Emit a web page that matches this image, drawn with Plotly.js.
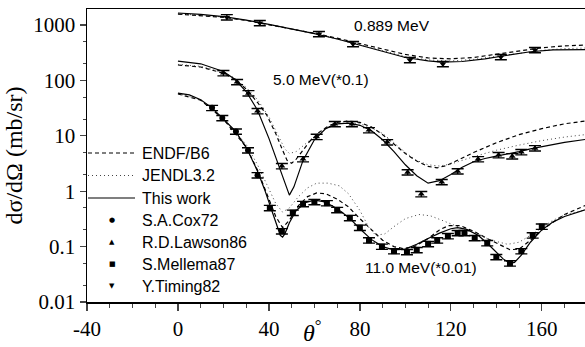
<!DOCTYPE html>
<html>
<head>
<meta charset="utf-8">
<script src="https://cdn.plot.ly/plotly-3.0.1.min.js"></script>
<style>html,body{margin:0;padding:0;background:#fff;}#chart{width:585px;height:347px;}</style>
</head>
<body>
<div id="chart"></div>
<script>
// ---- 0.889 MeV ----
const th889Solid = [0,10,20,30,40,50,60,70,80,90,100,110,116,125,135,145,155,165,179];
const v889Solid  = [1650,1560,1420,1230,1030,860,700,560,430,330,260,225,215,220,245,285,330,355,360];
const th889Endf  = [0,10,20,30,40,50,60,70,80,90,100,110,120,130,140,150,160,170,179];
const v889Endf   = [1580,1500,1380,1210,1020,860,710,580,460,365,295,255,245,260,295,345,390,420,435];
const th889Jendl = [0,10,20,30,40,50,60,70,80,90,100,110,120,130,140,150,160,170,179];
const v889Jendl  = [1600,1520,1400,1220,1025,855,700,565,440,340,270,235,225,240,270,310,350,375,385];
const th889Exp   = [21.5,36,62,77,102,116.5,142,157];
const v889Exp    = [1390,1090,690,455,235,198,265,355];

// ---- 5.0 MeV (*0.1) ----
const th5Solid = [0,10,20,25,30,35,40,44,47,49,51,55,60,65,70,75,80,85,90,95,100,105,110,115,120,125,130,135,140,145,150,155,160,165,170,179];
const v5Solid  = [224,200,145,105,63,29,9,3.2,1.4,0.85,1.2,3.6,8.5,13.5,16.5,17,15.5,12.5,8.5,5.2,3,1.9,1.4,1.55,2,2.7,3.4,3.9,4.3,4.7,5.2,5.8,6.4,7,7.6,8.6];
const th5Endf  = [0,10,20,25,30,35,39,43,46,48,50,52,55,58,62,66,70,75,80,85,90,95,100,105,110,114,118,124,130,140,150,160,170,179];
const v5Endf   = [190,175,135,105,70,40,24,11,5.5,3.6,3.2,3.8,5.5,8,11.5,15,17.5,18.5,17.5,14.5,10.5,7,4.8,3.5,2.8,2.65,2.9,3.8,5,7.5,10.5,13.5,16.5,18.5];
const th5Jendl = [0,10,20,25,30,35,40,44,47,49,52,57,62,66,70,75,80,85,90,95,100,105,110,115,120,130,140,150,160,170,179];
const v5Jendl  = [195,180,140,110,75,45,22,10,5.8,4.8,5.2,7.7,11.5,14.5,16.5,17.2,16.5,14,11,7.5,5,3.6,3,2.85,3.1,4.2,5.5,6.8,8.2,9.5,10.5];
const th5Exp   = [20,26,31,35,45.7,55,61,69,76.5,84,92,101,107,116,123,132,141,147,151,157];
const v5Exp    = [136,94,59,28,2.85,3.8,9.6,16.4,16.4,12.7,7.7,2.2,0.89,1.47,2.3,3.8,4.5,4.3,5.1,6.0];

// ---- 11.0 MeV (*0.01) ----
const th11Solid = [0,5,10,15,20,25,30,35,38,41,43,45,46,47,49,52,56,60,64,68,72,76,80,85,90,95,100,105,110,115,120,123,127,132,136,140,143,146,148,151,155,160,165,170,179];
const v11Solid  = [59,55,45,32,20,12.5,6.2,2.3,1.1,0.5,0.27,0.16,0.148,0.17,0.27,0.45,0.62,0.69,0.65,0.54,0.42,0.31,0.21,0.135,0.1,0.087,0.09,0.11,0.14,0.175,0.21,0.22,0.205,0.16,0.115,0.08,0.06,0.05,0.052,0.07,0.12,0.2,0.28,0.35,0.46];
const th11Endf  = [0,10,20,30,35,40,43,46,49,53,57,61,65,70,75,80,85,90,95,99,104,110,115,119,124,130,136,141,146,150,155,160,165,170,179];
const v11Endf   = [57,44,20,6.3,2.4,0.7,0.35,0.22,0.3,0.55,0.8,0.93,0.9,0.72,0.52,0.32,0.2,0.13,0.1,0.092,0.1,0.14,0.2,0.24,0.24,0.19,0.14,0.11,0.088,0.09,0.13,0.2,0.28,0.38,0.55];
const th11Jendl = [0,10,20,30,35,40,43,46,49,53,57,61,66,71,75,80,84,87,91,95,100,106,111,116,122,130,138,145,150,155,160,165,170,179];
const v11Jendl  = [58,45,21,7,3,1.1,0.6,0.42,0.5,0.8,1.15,1.4,1.4,1.25,0.9,0.45,0.22,0.16,0.17,0.23,0.32,0.38,0.36,0.3,0.24,0.18,0.13,0.11,0.12,0.16,0.22,0.3,0.37,0.46];
const th11Cox   = [15,19.5,25.5,30.8,35];
const v11Cox    = [32,21,12,5.5,1.95];
const th11Exp   = [40.4,45.7,50.5,55,60,65.5,70,75.6,80,84,89.7,95,100.7,105,110,114,118.7,123,126,130.5,136,140,146,151,156,160];
const v11Exp    = [0.5,0.19,0.41,0.59,0.64,0.61,0.46,0.33,0.22,0.13,0.1,0.083,0.08,0.087,0.112,0.13,0.155,0.176,0.176,0.143,0.116,0.065,0.05,0.083,0.16,0.23];

const seriesNames = ['ENDF/B6','JENDL3.2','This work','S.A.Cox72','R.D.Lawson86','S.Mellema87','Y.Timing82'];
const legendSymbols = ['','','','●','▲','■','▼'];
const energyLabels = ['0.889 MeV','5.0 MeV(*0.1)','11.0 MeV(*0.01)'];
const xTickVals = [-40,0,40,80,120,160];
const xTickText = ['-40','0','40','80','120','160'];
const yTickVals = [0.01,0.1,1,10,100,1000];
const yTickText = ['0.01','0.1','1','10','100','1000'];

const dashStyle = {color:'#000', width:1.2, dash:'4px,3px'};
const dotStyle  = {color:'#444', width:1, dash:'1px,3px'};
const solidStyle= {color:'#000', width:1.2};
const lineStyles = [dashStyle, dotStyle, solidStyle];

function line(x,y,name,style){
  return {x:x,y:y,type:'scatter',mode:'lines',name:name,showlegend:false,line:style,hoverinfo:'skip'};
}
function pts(x,y,name,symbol){
  return {x:x,y:y,type:'scatter',mode:'markers',name:name,showlegend:false,
    marker:{symbol:symbol,size:6,color:'#000'},
    error_y:{type:'percent',value:11,width:6,thickness:1.4,color:'#000'},hoverinfo:'skip'};
}

const traces = [
  line(th889Endf,v889Endf,seriesNames[0],dashStyle),
  line(th5Endf,v5Endf,seriesNames[0],dashStyle),
  line(th11Endf,v11Endf,seriesNames[0],dashStyle),
  line(th889Jendl,v889Jendl,seriesNames[1],dotStyle),
  line(th5Jendl,v5Jendl,seriesNames[1],dotStyle),
  line(th11Jendl,v11Jendl,seriesNames[1],dotStyle),
  line(th889Solid,v889Solid,seriesNames[2],solidStyle),
  line(th5Solid,v5Solid,seriesNames[2],solidStyle),
  line(th11Solid,v11Solid,seriesNames[2],solidStyle),
  pts(th11Cox,v11Cox,seriesNames[3],'circle'),
  pts(th5Exp,v5Exp,seriesNames[4],'triangle-up'),
  pts(th11Exp,v11Exp,seriesNames[5],'square'),
  pts(th889Exp,v889Exp,seriesNames[6],'triangle-down')
];

const serif = 'Liberation Serif';
const sans = 'Liberation Sans';

// pixel helpers for legend placement (plot area: left 87, width 498, top 9, height 293)
const px = v => (v - 87) / 498;
const py = v => (302 - v) / 293;
const legendRowsY = [153, 175.5, 198, 220, 242, 264, 286];

const shapes = [];
const annotations = [
  {x:94, y:3.0, xref:'x', yref:'y', text:energyLabels[0], showarrow:false, font:{family:sans, size:15.5, color:'#000'}},
  {x:63, y:2.025, xref:'x', yref:'y', text:energyLabels[1], showarrow:false, font:{family:sans, size:15.5, color:'#000'}},
  {x:107, y:-1.37, xref:'x', yref:'y', text:energyLabels[2], showarrow:false, font:{family:sans, size:15.5, color:'#000'}},
  {x:px(312), y:py(331), xref:'paper', yref:'paper', text:'<i>θ</i><sup>°</sup>', showarrow:false,
   font:{family:serif, size:24, color:'#000'}, xanchor:'center', yanchor:'middle'}
];
seriesNames.forEach((nm, i) => {
  const yy = py(legendRowsY[i]);
  if (i < 3) {
    shapes.push({type:'line', xref:'paper', yref:'paper', x0:px(88), x1:px(135), y0:yy, y1:yy, line:lineStyles[i]});
  } else {
    annotations.push({x:px(112), y:yy, xref:'paper', yref:'paper', text:legendSymbols[i], showarrow:false,
      font:{family:'DejaVu Sans', size:7, color:'#000'}, xanchor:'center', yanchor:'middle'});
  }
  annotations.push({x:px(140), y:yy, xref:'paper', yref:'paper', text:nm, showarrow:false,
    font:{family:sans, size:16, color:'#000'}, xanchor:'left', yanchor:'middle'});
});

const layout = {
  width:585, height:347,
  margin:{l:87, r:0, t:9, b:45},
  paper_bgcolor:'#fff', plot_bgcolor:'#fff',
  showlegend:false,
  xaxis:{range:[-40,179], tickvals:xTickVals, ticktext:xTickText, ticks:'outside', ticklen:7, tickwidth:1.3,
    minor:{dtick:10, tick0:-40, ticks:'outside', ticklen:4, tickwidth:1},
    showline:true, linewidth:1.5, linecolor:'#000', mirror:true, showgrid:false, zeroline:false,
    tickfont:{family:serif, size:21, color:'#000'}},
  yaxis:{type:'log', range:[-2,3.29], tickvals:yTickVals, ticktext:yTickText,
    ticks:'outside', ticklen:6, tickwidth:1.3,
    minor:{ticks:'outside', ticklen:3, tickwidth:1},
    showline:true, linewidth:1.5, linecolor:'#000', mirror:false, showgrid:false, zeroline:false,
    tickfont:{family:serif, size:21, color:'#000'},
    title:{text:'dσ/dΩ (mb/sr)', font:{family:serif, size:24, color:'#000'}, standoff:4}},
  shapes:shapes,
  annotations:annotations
};

Plotly.newPlot('chart', traces, layout, {displayModeBar:false, staticPlot:true});
</script>
</body>
</html>
